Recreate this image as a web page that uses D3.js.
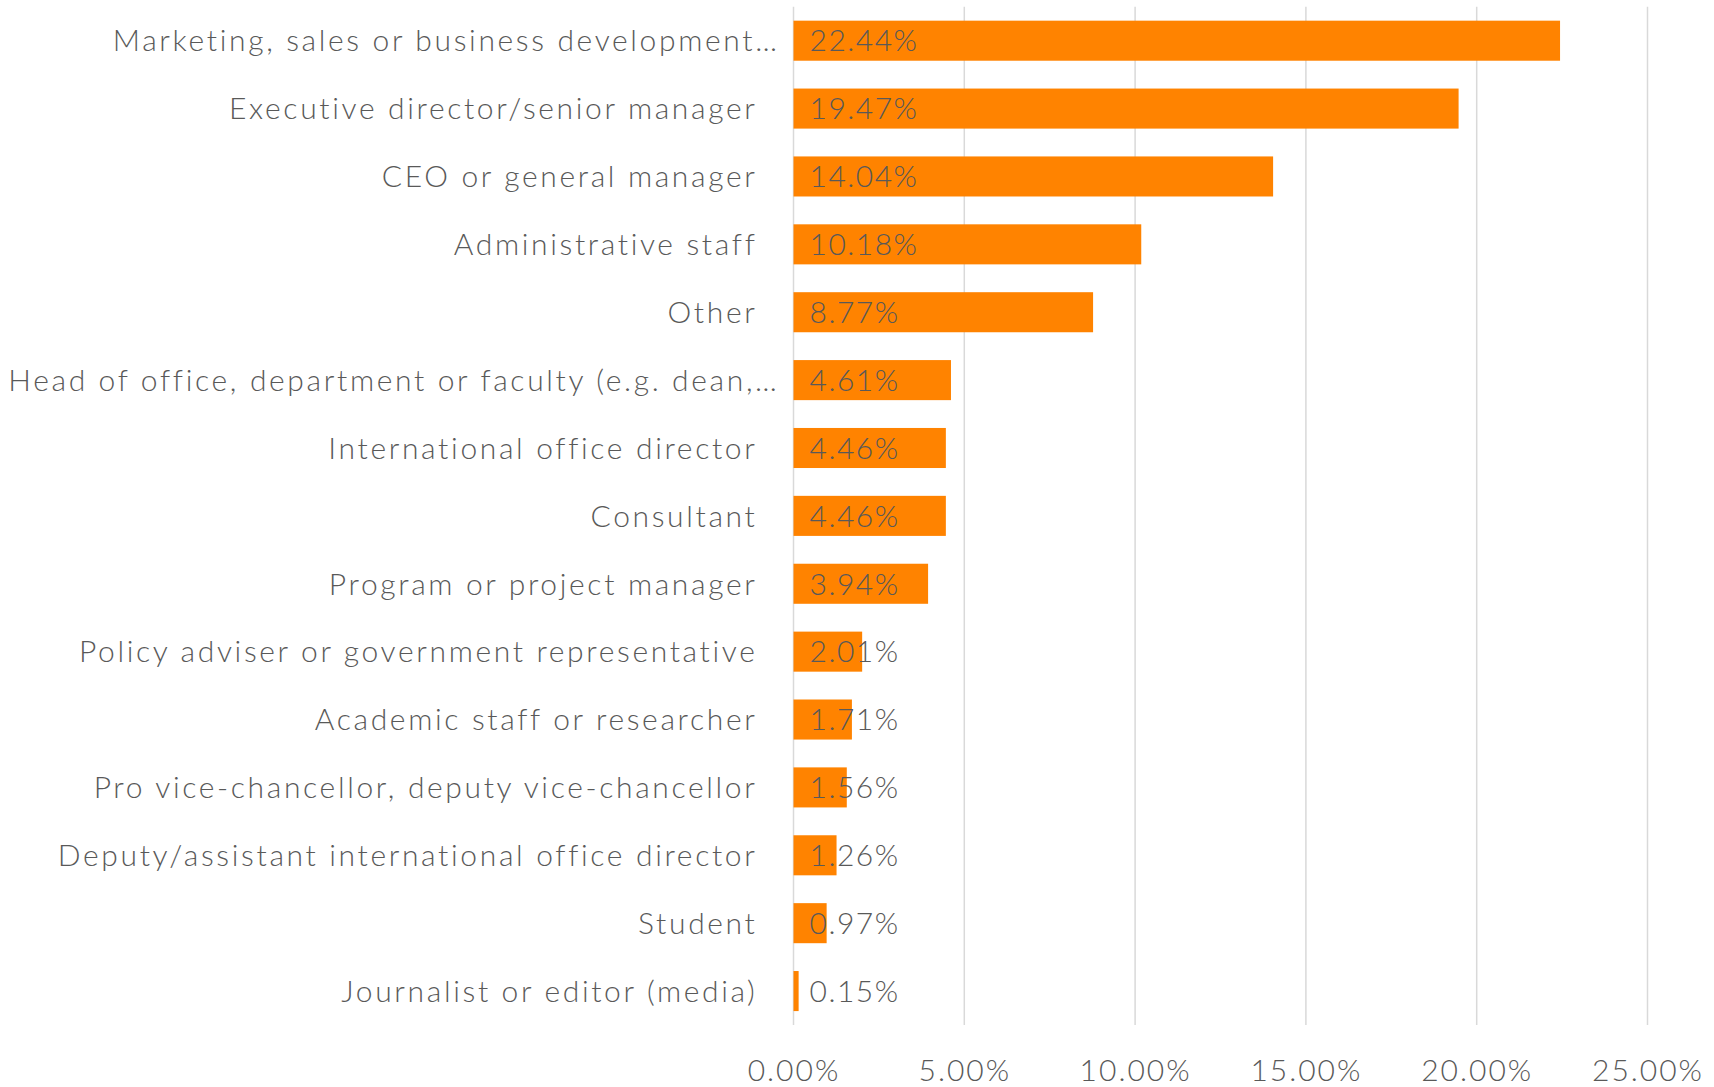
<!DOCTYPE html>
<html>
<head>
<meta charset="utf-8">
<script src="https://cdn.jsdelivr.net/npm/d3@7"></script>
<style>
  html, body { margin: 0; padding: 0; background: #fff; }
  svg text { font-family: "Lato", "Noto Sans", sans-serif; fill: #595959; }
</style>
</head>
<body>
<svg id="chart" width="1714" height="1087"></svg>
<script>
const categories = [
  "Marketing, sales or business development…",
  "Executive director/senior manager",
  "CEO or general manager",
  "Administrative staff",
  "Other",
  "Head of office, department or faculty (e.g. dean,…",
  "International office director",
  "Consultant",
  "Program or project manager",
  "Policy adviser or government representative",
  "Academic staff or researcher",
  "Pro vice-chancellor, deputy vice-chancellor",
  "Deputy/assistant international office director",
  "Student",
  "Journalist or editor (media)"
];
const values = [22.44, 19.47, 14.04, 10.18, 8.77, 4.61, 4.46, 4.46, 3.94, 2.01, 1.71, 1.56, 1.26, 0.97, 0.15];
const tickValues = [0, 5, 10, 15, 20, 25];

const data = categories.map((c, i) => ({ cat: c, val: values[i] }));

const svg = d3.select("#chart");
const x = d3.scaleLinear().domain([0, 25]).range([793.5, 1647.5]);
const y = d3.scaleBand().domain(categories).range([6.75, 1025]).paddingInner(0.41).paddingOuter(0.205);

// gridlines
svg.append("g").selectAll("line").data(tickValues).join("line")
  .attr("x1", d => x(d)).attr("x2", d => x(d))
  .attr("y1", 6.75).attr("y2", 1025)
  .attr("stroke", "#D9D9D9").attr("stroke-width", 1.5);

// x axis tick labels
const xAxis = d3.axisBottom(x).tickValues(tickValues).tickSize(0).tickPadding(0)
  .tickFormat(d => d3.format(".2f")(d) + "%");
const gx = svg.append("g").attr("transform", "translate(0,1060)").call(xAxis);
gx.select(".domain").remove();
gx.selectAll("text").attr("font-size", 30).attr("font-family", "Lato, 'Noto Sans', sans-serif")
  .attr("font-weight", 300)
  .attr("fill", "#595959").attr("letter-spacing", 2);

// bars
svg.append("g").selectAll("rect").data(data).join("rect")
  .attr("x", x(0))
  .attr("y", d => y(d.cat))
  .attr("width", d => x(d.val) - x(0))
  .attr("height", y.bandwidth())
  .attr("fill", "#FF8300");

// data labels
svg.append("g").selectAll("text").data(data).join("text")
  .attr("x", x(0) + 16)
  .attr("y", d => y(d.cat) + y.bandwidth() / 2)
  .attr("dy", "0.36em")
  .attr("font-size", 30)
  .attr("font-weight", 300)
  .attr("letter-spacing", 1.5)
  .text(d => d.val.toFixed(2) + "%");

// category labels
svg.append("g").selectAll("text").data(data).join("text")
  .attr("x", d => d.cat.endsWith("…") ? x(0) - 14 : x(0) - 36)
  .attr("y", d => y(d.cat) + y.bandwidth() / 2)
  .attr("dy", "0.36em")
  .attr("text-anchor", "end")
  .attr("font-size", 30)
  .attr("font-weight", 300)
  .attr("letter-spacing", 2.65)
  .text(d => d.cat);
</script>
</body>
</html>
